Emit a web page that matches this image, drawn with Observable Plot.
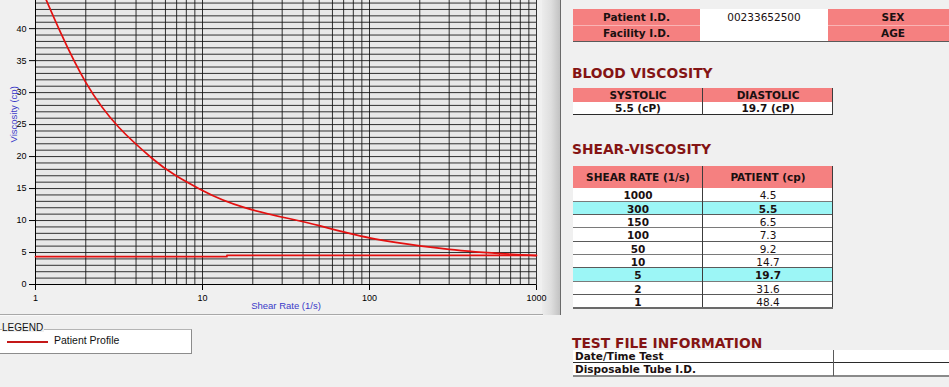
<!DOCTYPE html>
<html><head><meta charset="utf-8">
<script src="https://cdn.jsdelivr.net/npm/d3@7"></script>
<script src="https://cdn.jsdelivr.net/npm/@observablehq/plot@0.6"></script>
<style>
html,body{margin:0;padding:0;background:#f0f0f0;width:949px;height:387px;overflow:hidden;}
body{position:relative;font-family:"DejaVu Sans",Verdana,sans-serif;}
#chart{position:absolute;left:0;top:0;width:560px;height:316px;}
#splitter{position:absolute;left:542px;top:0;width:18px;height:315px;background:linear-gradient(to right,#ececec,#dedede 50%,#c2c2c2);border-right:1.5px solid #6a6a6a;}
#hline{position:absolute;left:0;top:314px;width:543px;height:1px;background:#a8a8a8;}
#hline2{position:absolute;left:0;top:315px;width:543px;height:1px;background:#fafafa;}
.abs{position:absolute;}
.cell{position:absolute;box-sizing:border-box;display:flex;align-items:center;justify-content:center;white-space:nowrap;font-size:10.5px;color:#1a1010;overflow:hidden;}
.title{position:absolute;font-size:13.8px;line-height:14px;font-weight:bold;color:#841414;white-space:nowrap;}
#legendBox{position:absolute;left:-1px;top:329px;width:191px;height:23px;background:#fff;border:1px solid #b4b4b4;border-right-color:#8c8c8c;border-bottom-color:#8c8c8c;}
#legendLabel{position:absolute;left:2px;top:322px;height:10px;font:10px "Liberation Sans",Arial,sans-serif;color:#111;background:#f0f0f0;padding-right:1px;line-height:11px;}
#legendSwatch{position:absolute;left:7px;top:341px;width:41px;height:2px;background:#c41818;}
#legendText{position:absolute;left:54px;top:334px;font:10.5px "Liberation Sans",Arial,sans-serif;color:#111;line-height:12px;}
</style>
</head><body>
<div id="splitter"></div>
<div id="hline"></div><div id="hline2"></div>
<div id="chart"></div>
<div id="legendBox"></div>
<div id="legendLabel">LEGEND</div>
<div id="legendSwatch"></div>
<div id="legendText">Patient Profile</div>
<div id="panel"></div>
<script>
// ---- data ----
const shearRate = [1000, 300, 150, 100, 50, 10, 5, 2, 1];
const patientCp = [4.5, 5.5, 6.5, 7.3, 9.2, 14.7, 19.7, 31.6, 48.4];
const highlightedRates = [300, 5];
const baselineRate = [1, 14, 14, 1000];
const baselineCp = [4.35, 4.35, 4.55, 4.55];
const yTickValues = [0, 5, 10, 15, 20, 25, 30, 35, 40];
const xTickValues = [1, 10, 100, 1000];
const yGridValues = d3.range(0, 45);
const xGridValues = d3.scaleLog().domain([1, 1000]).ticks();

const patientId = "00233652500";
const systolic = "5.5 (cP)";
const diastolic = "19.7 (cP)";
const tableHeaderShear = ["SHEAR RATE (1/s)", "PATIENT (cp)"];

// ---- chart ----
const profile = shearRate.map((r, i) => ({rate: r, cp: patientCp[i]})).sort((a, b) => a.rate - b.rate);
const baseline = baselineRate.map((r, i) => ({rate: r, cp: baselineCp[i]}));

const chart = Plot.plot({
  width: 560,
  height: 316,
  marginLeft: 35,
  marginRight: 24,
  marginTop: 0,
  marginBottom: 32,
  style: {background: "transparent", fontFamily: "'Liberation Sans', Arial, sans-serif", fontSize: "9px", color: "#000", overflow: "visible"},
  x: {type: "log", domain: [1, 1000], ticks: xTickValues, tickFormat: d => String(d), tickSize: 6, tickPadding: 4, label: null},
  y: {domain: [0, 44.4], ticks: yTickValues, tickSize: 6, tickPadding: 3, label: null},
  marks: [
    Plot.frame({fill: "#e8e8e8", stroke: "none"}),
    Plot.ruleX(xGridValues, {stroke: "#111", strokeOpacity: 0.85}),
    Plot.ruleY(yGridValues, {stroke: "#111", strokeOpacity: 0.85}),
    Plot.ruleX([1], {stroke: "#000"}),
    Plot.ruleY([0], {stroke: "#000"}),
    Plot.line(baseline, {x: "rate", y: "cp", stroke: "#e41010", strokeWidth: 1.7}),
    Plot.line(profile, {x: "rate", y: "cp", curve: "monotone-x", stroke: "#e41010", strokeWidth: 1.7, clip: true}),
    Plot.text(["Shear Rate (1/s)"], {frameAnchor: "bottom", dy: 24, fill: "#3a3ac8", fontSize: 9.5}),
    Plot.text(["Viscosity (cp)"], {frameAnchor: "left", dx: -22, rotate: -90, fill: "#3a3ac8", fontSize: 9.5})
  ]
});
document.getElementById("chart").appendChild(chart);

// ---- right panel ----
const panel = document.getElementById("panel");
function box(x, y, w, h, bg) {
  const d = document.createElement("div");
  d.className = "abs";
  Object.assign(d.style, {left: x + "px", top: y + "px", width: w + "px", height: h + "px", background: bg});
  panel.appendChild(d);
  return d;
}
function cell(x, y, w, h, text, {bg = "transparent", bold = false, align = "center", dy = 0} = {}) {
  const d = document.createElement("div");
  d.className = "cell";
  Object.assign(d.style, {left: x + "px", top: y + "px", width: w + "px", height: h + "px", background: bg,
    fontWeight: bold ? "bold" : "normal", justifyContent: align === "left" ? "flex-start" : "center",
    paddingLeft: align === "left" ? "2px" : "0", paddingTop: (dy * 2) + "px"});
  d.textContent = text;
  panel.appendChild(d);
  return d;
}
function title(text, baseline) {
  const d = document.createElement("div");
  d.className = "title";
  d.style.left = "572px";
  d.style.top = (baseline - 11.8) + "px";
  d.textContent = text;
  panel.appendChild(d);
}
const PINK = "#f58080", CYAN = "#9cf6f6", WHITE = "#ffffff", LINE = "#3c3c3c";

// Table 1
cell(573, 9, 127, 16, "Patient I.D.", {bg: PINK, bold: true});
cell(700, 9, 128, 16, patientId, {bg: WHITE});
cell(828, 9, 130, 16, "SEX", {bg: PINK, bold: true});
cell(573, 25, 127, 15.5, "Facility I.D.", {bg: PINK, bold: true});
cell(700, 25, 128, 15.5, "", {bg: WHITE});
cell(828, 25, 130, 15.5, "AGE", {bg: PINK, bold: true});
box(573, 24.5, 127, 0.8, "#f9b4b4");
box(828, 24.5, 130, 0.8, "#f9b4b4");
box(573, 40.5, 380, 1, "#5a5a5a");

// Blood viscosity
title("BLOOD VISCOSITY", 77.3);
cell(573, 88, 130, 13.5, "SYSTOLIC", {bg: PINK, bold: true, dy: 0.6});
cell(703, 88, 130, 13.5, "DIASTOLIC", {bg: PINK, bold: true, dy: 0.6});
cell(573, 101.5, 130, 12.8, systolic, {bg: WHITE, bold: true, dy: 0.5});
cell(703, 101.5, 130, 12.8, diastolic, {bg: WHITE, bold: true, dy: 0.5});
box(573, 113.5, 260, 1.5, "#2a2a2a");
box(702, 88, 1, 26.5, LINE);
box(832, 88, 1, 26.5, LINE);

// Shear-viscosity table
title("SHEAR-VISCOSITY", 154);
cell(573, 166, 130, 22.3, tableHeaderShear[0], {bg: PINK, bold: true});
cell(703, 166, 130, 22.3, tableHeaderShear[1], {bg: PINK, bold: true});
const rowH = 13.33;
shearRate.forEach((r, i) => {
  const y = 188.3 + i * rowH;
  const hl = highlightedRates.includes(r);
  const bg = hl ? CYAN : WHITE;
  cell(573, y, 130, rowH, String(r), {bg, bold: true, dy: 0.3});
  cell(703, y, 130, rowH, patientCp[i].toFixed(1), {bg, bold: hl, dy: 0.3});
  box(573, y + rowH - 1, 260, 1, i % 2 ? "#5a5a5a" : "#7a7a7a");
});
box(702, 166, 1, 22.3 + 9 * rowH, LINE);
box(832, 166, 1, 22.3 + 9 * rowH, LINE);
box(573, 188.3 + 9 * rowH - 1, 260, 1.5, "#6a6a6a");

// Test file information
title("TEST FILE INFORMATION", 347.3);
cell(573, 350, 260, 12.3, "Date/Time Test", {bg: WHITE, bold: true, align: "left"});
cell(833, 350, 120, 12.3, "", {bg: WHITE});
cell(573, 362.3, 260, 13.4, "Disposable Tube I.D.", {bg: WHITE, bold: true, align: "left"});
cell(833, 362.3, 120, 13.4, "", {bg: WHITE});
box(573, 361.8, 380, 1, "#2a2a2a");
box(573, 375.2, 380, 1.5, "#8a8a8a");
box(832.5, 350, 1, 26, "#5a5a5a");
</script>
</body></html>
